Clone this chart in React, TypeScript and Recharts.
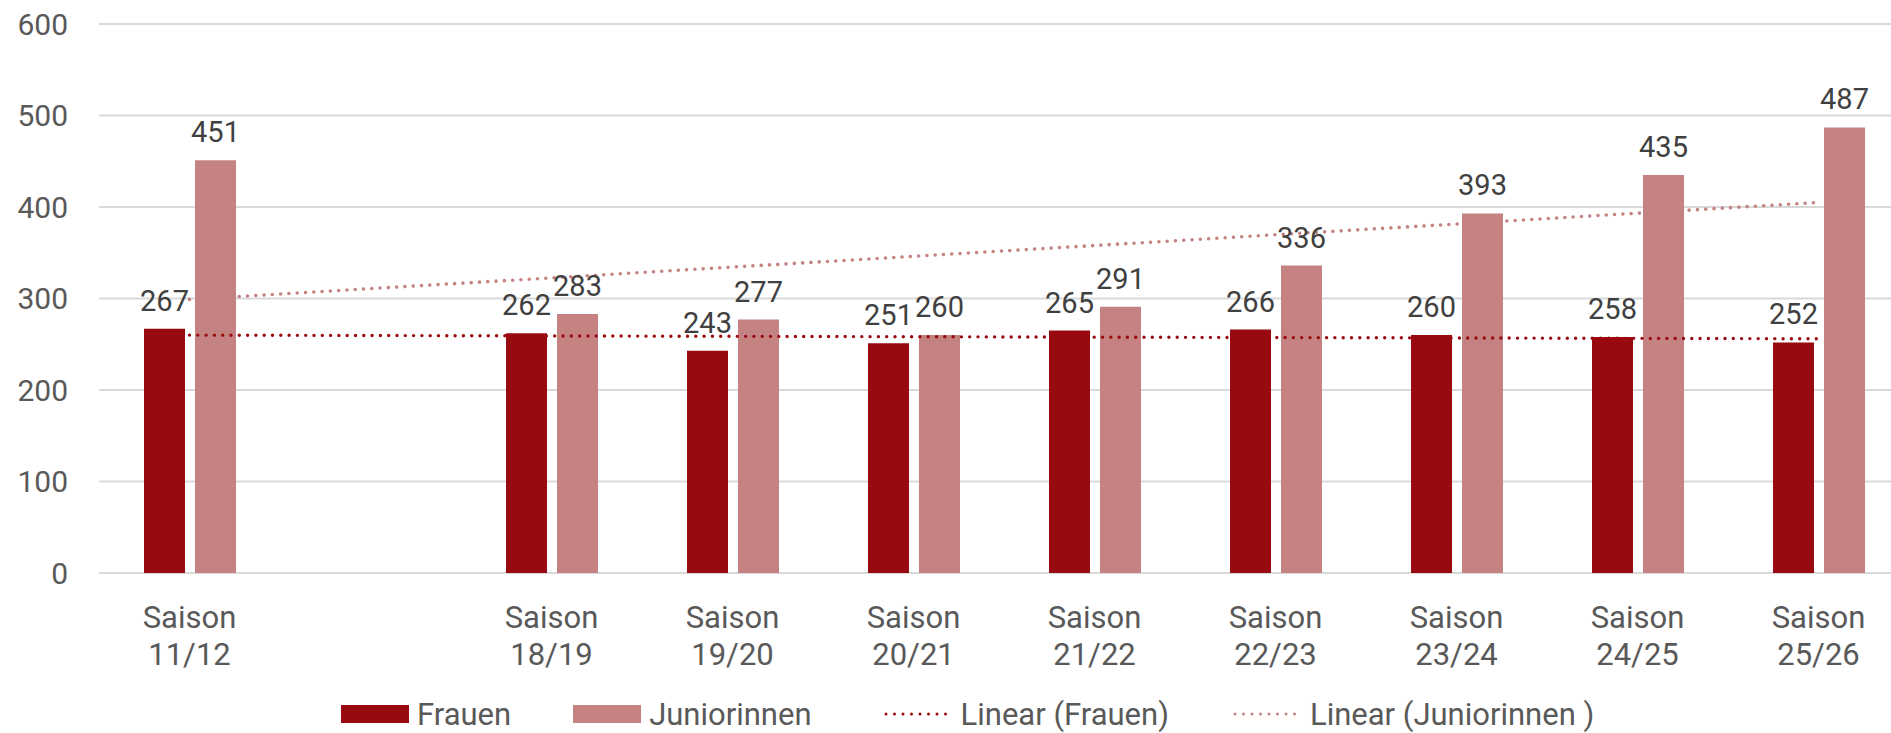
import {
	Bar,
	CartesianGrid,
	ComposedChart,
	LabelList,
	Legend,
	Line,
	XAxis,
	YAxis,
} from "recharts";

const seasons = ["11/12", "", "18/19", "19/20", "20/21", "21/22", "22/23", "23/24", "24/25", "25/26"];
const frauen = [267, null, 262, 243, 251, 265, 266, 260, 258, 252];
const juniorinnen = [451, null, 283, 277, 260, 291, 336, 393, 435, 487];
// end points of the linear trend lines; drawn straight between them
const trendFrauen = [260, null, null, null, null, null, null, null, null, 256];
const trendJuniorinnen = [299, null, null, null, null, null, null, null, null, 405];
const yTicks = [0, 100, 200, 300, 400, 500, 600];

const FRAUEN = "#990A10";
const JUNIOR = "#C48382";
const AXIS_TEXT = "#595959";
const FONT = "Roboto, sans-serif";

const data = seasons.map((season, i) => ({
	season,
	frauen: frauen[i],
	juniorinnen: juniorinnen[i],
	trendFrauen: trendFrauen[i],
	trendJuniorinnen: trendJuniorinnen[i],
}));

const SeasonTick = ({ x, y, payload }: any) => {
	if (!payload.value) return <g />;
	return (
		<text x={x} y={y + 55} textAnchor="middle" fill={AXIS_TEXT} fontSize={31} fontFamily={FONT}>
			<tspan x={x}>Saison</tspan>
			<tspan x={x} dy={36.7}>
				{payload.value}
			</tspan>
		</text>
	);
};

const legendItems = [
	{ label: "Frauen", color: FRAUEN, kind: "box", gapAfter: 62 },
	{ label: "Juniorinnen", color: JUNIOR, kind: "box", gapAfter: 72 },
	{ label: "Linear (Frauen)", color: FRAUEN, kind: "dots", gapAfter: 64 },
	{ label: "Linear (Juniorinnen )", color: JUNIOR, kind: "dots", gapAfter: 0 },
];

const LegendContent = () => (
	<div
		style={{
			display: "flex",
			alignItems: "center",
			height: 36,
			fontFamily: FONT,
			fontSize: 31,
			lineHeight: 1,
			color: AXIS_TEXT,
			whiteSpace: "nowrap",
		}}
	>
		{legendItems.map((item) => (
			<div key={item.label} style={{ display: "flex", alignItems: "center", marginRight: item.gapAfter }}>
				{item.kind === "box" ? (
					<span style={{ display: "inline-block", width: 68, height: 18, background: item.color }} />
				) : (
					<svg width={70} height={18} style={{ display: "block" }}>
						<line
							x1={2}
							y1={9}
							x2={70}
							y2={9}
							stroke={item.color}
							strokeWidth={3}
							strokeLinecap="round"
							strokeDasharray="0 8.5"
						/>
					</svg>
				)}
				<span style={{ marginLeft: item.kind === "box" ? 8 : 7 }}>{item.label}</span>
			</div>
		))}
	</div>
);

export default function App() {
	return (
		<div
			style={{
				position: "absolute",
				left: 0,
				top: 0,
				width: 1891,
				height: 733,
				overflow: "hidden",
				background: "#fff",
			}}
		>
			<ComposedChart
				width={1909}
				height={733}
				data={data}
				margin={{ top: 24, right: 0, bottom: 0, left: 0 }}
				barSize={41}
				barGap={10}
			>
				<CartesianGrid vertical={false} stroke="#d9d9d9" strokeWidth={2} />
				<XAxis
					dataKey="season"
					axisLine={false}
					tickLine={false}
					tickSize={0}
					tickMargin={0}
					interval={0}
					height={124}
					tick={<SeasonTick />}
				/>
				<YAxis
					domain={[0, 600]}
					ticks={yTicks}
					interval={0}
					axisLine={false}
					tickLine={false}
					tickSize={0}
					tickMargin={31}
					width={99}
					tick={{ fill: AXIS_TEXT, fontSize: 30, fontFamily: FONT }}
				/>
				<Bar dataKey="frauen" name="Frauen" fill={FRAUEN} isAnimationActive={false}>
					<LabelList dataKey="frauen" position="top" offset={18} fill="#404040" fontSize={29} fontFamily={FONT} />
				</Bar>
				<Bar dataKey="juniorinnen" name="Juniorinnen" fill={JUNIOR} isAnimationActive={false}>
					<LabelList dataKey="juniorinnen" position="top" offset={18} fill="#404040" fontSize={29} fontFamily={FONT} />
				</Bar>
				<Line
					dataKey="trendJuniorinnen"
					name="Linear (Juniorinnen )"
					stroke={JUNIOR}
					strokeWidth={3.6}
					strokeLinecap="round"
					strokeDasharray="0 8.3"
					connectNulls
					dot={false}
					activeDot={false}
					isAnimationActive={false}
				/>
				<Line
					dataKey="trendFrauen"
					name="Linear (Frauen)"
					stroke={FRAUEN}
					strokeWidth={3.4}
					strokeLinecap="round"
					strokeDasharray="0 8.3"
					connectNulls
					dot={false}
					activeDot={false}
					isAnimationActive={false}
				/>
				<Legend
					verticalAlign="bottom"
					content={<LegendContent />}
					wrapperStyle={{ left: 341, top: 696, width: "auto", height: 36 }}
				/>
			</ComposedChart>
		</div>
	);
}
